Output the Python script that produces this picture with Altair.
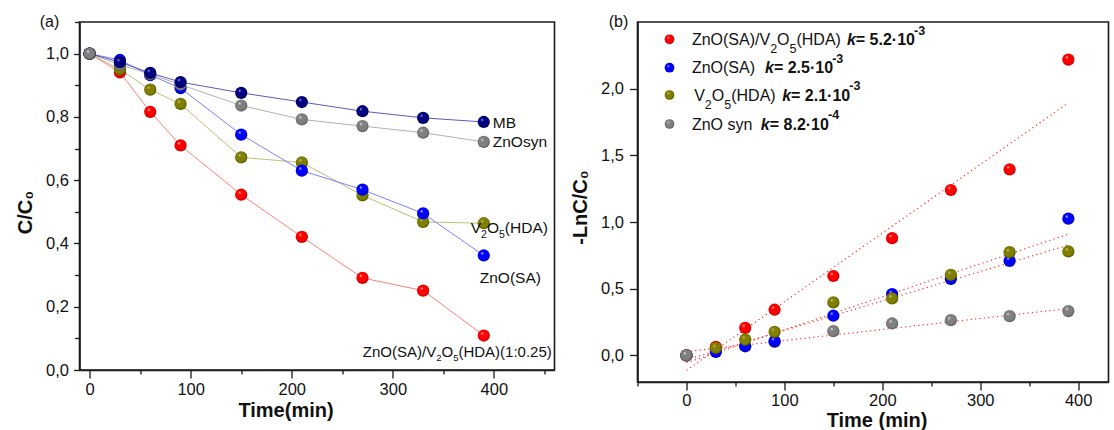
import altair as alt
import pandas as pd

# ---------------- data ----------------
time = [0, 30, 60, 90, 150, 210, 270, 330, 390]

# panel (a): C/C0
a_names = ["ZnO(SA)/V2O5(HDA)(1:0.25)", "V2O5(HDA)", "ZnO(SA)", "ZnOsyn", "MB"]
a_comp = [1.0, 0.941, 0.816, 0.710, 0.554, 0.421, 0.291, 0.251, 0.109]
a_v2o5 = [1.0, 0.950, 0.886, 0.841, 0.672, 0.656, 0.552, 0.468, 0.464]
a_znosa = [1.0, 0.980, 0.932, 0.891, 0.744, 0.630, 0.570, 0.495, 0.362]
a_znosyn = [1.0, 0.965, 0.935, 0.902, 0.836, 0.792, 0.771, 0.750, 0.721]
a_mb = [1.0, 0.973, 0.939, 0.910, 0.876, 0.847, 0.818, 0.797, 0.784]

# panel (b): -Ln C/C0
b_names = ["ZnO syn", "ZnO(SA)", "ZnO(SA)/V2O5(HDA)", "V2O5(HDA)"]
b_znosyn = [0.0, 0.040, 0.070, 0.100, 0.181, 0.239, 0.264, 0.294, 0.332]
b_znosa = [0.0, 0.025, 0.068, 0.106, 0.297, 0.460, 0.573, 0.709, 1.025]
b_comp = [0.0, 0.063, 0.206, 0.342, 0.595, 0.879, 1.240, 1.394, 2.218]
b_v2o5 = [0.0, 0.055, 0.118, 0.176, 0.397, 0.427, 0.603, 0.774, 0.779]

# linear fits (dotted lines): value at t=0 and at t=390
fit_t = [0, 390]
fit_start = [0.028, -0.056, -0.113, -0.033]
fit_end = [0.351, 0.909, 1.894, 0.827]

# legend texts of panel (b)
leg_k = ["5.2", "2.5", "2.1", "8.2"]
leg_exp = ["-3", "-3", "-3", "-4"]

FONT = "Liberation Sans"

# Arial / Liberation Sans advance widths (per 1000 em)
W_REG = {" ": 278, "(": 333, ")": 333, "-": 333, ".": 278, "/": 278, ":": 278, "=": 584,
         "·": 278, "A": 667, "B": 667, "C": 722, "D": 722, "H": 722, "M": 833, "O": 778,
         "S": 667, "V": 667, "Z": 611, "n": 556, "s": 500, "y": 500, "k": 500}
W_BOLD = {" ": 278, "=": 584, ".": 278, "·": 278, "-": 333, "k": 556}


def text_w(s, size, bold=False):
    tab = W_BOLD if bold else W_REG
    return sum(tab.get(c, 556) for c in s) * size / 1000.0


def rich(segments, size, sub_size, sub_dy, sup_size=12, sup_dy=-10.5):
    """Lay out rich-text segments; returns (list of pieces, total width)."""
    x = 0.0
    out = []
    for text, kind in segments:
        if kind == "gap":
            x += float(text)
            continue
        fs, weight, style, dy = size, "normal", "normal", 0.0
        if kind == "sub":
            fs, dy = sub_size, sub_dy
        elif kind == "b":
            weight = "bold"
        elif kind == "bi":
            weight, style = "bold", "italic"
        elif kind == "sup":
            fs, weight, dy = sup_size, "bold", sup_dy
        out.append((text, x, dy, fs, weight, style))
        x += text_w(text, fs, weight == "bold")
    return out, x


def formula_segments(name):
    """'V2O5' style chemistry -> normal/subscript segments."""
    segs = []
    buf = ""
    for i, c in enumerate(name):
        if c.isdigit() and i > 0 and name[i - 1] in "VO" and (i + 1 < len(name) and name[i + 1] in "O("):
            if buf:
                segs.append((buf, "n"))
                buf = ""
            segs.append((c, "sub"))
        else:
            buf += c
    if buf:
        segs.append((buf, "n"))
    return segs


def sphere(base, dark, light):
    return {
        "gradient": "radial",
        "x1": 0.35, "y1": 0.3, "r1": 0.0,
        "x2": 0.5, "y2": 0.5, "r2": 0.55,
        "stops": [
            {"offset": 0.0, "color": light},
            {"offset": 0.25, "color": base},
            {"offset": 0.7, "color": base},
            {"offset": 1.0, "color": dark},
        ],
    }


RED = ("#ff0000", "#b00000", "#ffe8e8")
BLUE = ("#0000ff", "#0000a0", "#e8eeff")
OLIVE = ("#808000", "#4a4a00", "#f2c8a8")
GRAY = ("#808080", "#505050", "#f4f4f4")
NAVY = ("#000080", "#000040", "#b8b8ff")


def df_from(name, vals):
    return pd.DataFrame({"series": [name] * len(time), "t": time, "v": vals})


dummy = pd.DataFrame({"d": [0]})
TXT = "#111111"

# ---------------- panel (a) ----------------
xa = alt.X(
    "t:Q",
    scale=alt.Scale(domain=[-10, 460], nice=False, zero=False),
    axis=alt.Axis(
        values=[0, 50, 100, 150, 200, 250, 300, 350, 400, 450],
        title="Time(min)",
        labelExpr="datum.value % 100 == 0 ? datum.label : ''",
        tickSize={"condition": {"test": "datum.value % 100 != 0", "value": 4}, "value": 8},
        labelPadding=3,
        titleX=206, titleY=40, titleBaseline="middle",
    ),
)
ya = alt.Y(
    "v:Q",
    scale=alt.Scale(domain=[0, 1.1], nice=False, zero=False),
    axis=alt.Axis(
        values=[0.0, 0.1, 0.2, 0.3, 0.4, 0.5, 0.6, 0.7, 0.8, 0.9, 1.0, 1.1],
        title="C/C₀",
        labelExpr="round(datum.value*10) % 2 == 0 ? replace(format(datum.value, '.1f'), '.', ',') : ''",
        tickSize={"condition": {"test": "round(datum.value*10) % 2 == 1", "value": 5}, "value": 6},
        labelPadding=5,
        titlePadding=10,
        titleY=190,
    ),
)

# (name, values, sphere colours, line colour, label dx, label baseline dy, align, font, sub size, sub dy)
a_series = [
    (a_names[0], a_comp, RED, "#ff7070", 68, 21, "right", 15, 9.5, 4),
    (a_names[1], a_v2o5, OLIVE, "#b8b868", -13, 10, "left", 15.5, 10.5, 5),
    (a_names[2], a_znosa, BLUE, "#7070ff", -4, 27.5, "left", 15.5, 10.5, 5),
    (a_names[3], a_znosyn, GRAY, "#a8a8a8", 9, 5.5, "left", 15.5, 10.5, 5),
    (a_names[4], a_mb, NAVY, "#4848b0", 9, 6.5, "left", 15.5, 10.5, 5),
]

a_layers = []
for s in a_series:
    a_layers.append(
        alt.Chart(df_from(s[0], s[1])).mark_line(color=s[3], strokeWidth=0.9).encode(x=xa, y=ya)
    )
for s in a_series:
    a_layers.append(
        alt.Chart(df_from(s[0], s[1])).mark_point(
            shape="circle", filled=True, fill=sphere(*s[2]), size=150, opacity=1, strokeWidth=0
        ).encode(x=xa, y=ya)
    )
# gray sphere sits on top at t = 0
a_layers.append(
    alt.Chart(df_from(a_names[3], a_znosyn)).transform_filter("datum.t == 0").mark_point(
        shape="circle", filled=True, fill=sphere(*GRAY), size=150, opacity=1, strokeWidth=0
    ).encode(x=xa, y=ya)
)
# end-of-line labels with real subscripts
for name, vals, col, lcol, dx, dy, al, fs, sfs, sdy in a_series:
    pieces, total = rich(formula_segments(name), fs, sfs, sdy)
    start = dx - total if al == "right" else dx
    for text, ox, ody, pfs, pw, pst in pieces:
        a_layers.append(
            alt.Chart(df_from(name, vals)).transform_filter("datum.t == 390").mark_text(
                align="left", baseline="alphabetic", dx=start + ox, dy=dy + ody,
                font=FONT, fontSize=pfs, fontWeight=pw, fontStyle=pst, color=TXT, text=text,
            ).encode(x=xa, y=ya)
        )
a_layers.append(
    alt.Chart(dummy).mark_text(font=FONT, fontSize=16, color=TXT, align="center", baseline="middle").encode(
        x=alt.value(-30), y=alt.value(0), text=alt.value("(a)")
    )
)
chart_a = alt.layer(*a_layers).properties(width=475, height=348)

# ---------------- panel (b) ----------------
xb = alt.X(
    "t:Q",
    scale=alt.Scale(domain=[-50, 431], nice=False, zero=False),
    axis=alt.Axis(
        values=[-50, 0, 50, 100, 150, 200, 250, 300, 350, 400],
        title="Time (min)",
        labelExpr="datum.value % 100 == 0 ? datum.label : ''",
        tickSize={"condition": {"test": "datum.value % 100 != 0", "value": 4}, "value": 8},
        labelPadding=2,
        titleX=239, titleY=38, titleBaseline="middle",
    ),
)
yb = alt.Y(
    "v:Q",
    scale=alt.Scale(domain=[-0.2, 2.5], nice=False, zero=False),
    axis=alt.Axis(
        values=[0.0, 0.5, 1.0, 1.5, 2.0],
        title="-LnC/C₀",
        labelExpr="replace(format(datum.value, '.1f'), '.', ',')",
        tickSize=8,
        labelPadding=6,
        titlePadding=10,
        titleY=185,
    ),
)

b_series = [
    (b_names[0], b_znosyn, GRAY),
    (b_names[1], b_znosa, BLUE),
    (b_names[2], b_comp, RED),
    (b_names[3], b_v2o5, OLIVE),
]

b_layers = []
fit_df = pd.DataFrame({
    "t": [fit_t[0]] * 4, "t2": [fit_t[1]] * 4, "v": fit_start, "v2": fit_end,
})
b_layers.append(
    alt.Chart(fit_df).mark_rule(color="#ff2020", strokeDash=[1.2, 3.2], strokeWidth=1.1).encode(
        x=xb, y=yb, x2="t2:Q", y2="v2:Q"
    )
)
for name, vals, col in b_series:
    b_layers.append(
        alt.Chart(df_from(name, vals)).mark_point(
            shape="circle", filled=True, fill=sphere(*col), size=150, opacity=1, strokeWidth=0
        ).encode(x=xb, y=yb)
    )
b_layers.append(
    alt.Chart(df_from(b_names[0], b_znosyn)).transform_filter("datum.t == 0").mark_point(
        shape="circle", filled=True, fill=sphere(*GRAY), size=150, opacity=1, strokeWidth=0
    ).encode(x=xb, y=yb)
)

# legend (layout in pixels of the plot area)
leg_order = [2, 1, 3, 0]          # red, blue, olive, gray
leg_labels = [b_names[i] for i in leg_order]
leg_cols = [b_series[i][2] for i in leg_order]
row_y = [17.3, 45.7, 73.0, 102.0]
name_x = [54.4, 54.4, 56.7, 54.4]
gap_k = [6.0, 10.0, 6.5, 8.5]
for i in range(4):
    b_layers.append(
        alt.Chart(dummy).mark_point(
            shape="circle", filled=True, fill=sphere(*leg_cols[i]), size=95, opacity=1, strokeWidth=0
        ).encode(x=alt.value(32), y=alt.value(row_y[i]))
    )
    segs = formula_segments(leg_labels[i]) + [
        (str(gap_k[i]), "gap"), ("k", "bi"), ("= " + leg_k[i] + "·10", "b"), (leg_exp[i], "sup")
    ]
    pieces, _ = rich(segs, 16, 12.5, 8, sup_size=12.5, sup_dy=-10.5)
    base = row_y[i] + 5.7
    for text, ox, ody, pfs, pw, pst in pieces:
        b_layers.append(
            alt.Chart(dummy).mark_text(
                font=FONT, fontSize=pfs, fontWeight=pw, fontStyle=pst, color=TXT,
                align="left", baseline="alphabetic",
            ).encode(x=alt.value(name_x[i] + ox), y=alt.value(base + ody), text=alt.value(text))
        )
b_layers.append(
    alt.Chart(dummy).mark_text(font=FONT, fontSize=16, color=TXT, align="center", baseline="middle").encode(
        x=alt.value(-19), y=alt.value(0), text=alt.value("(b)")
    )
)
chart_b = alt.layer(*b_layers).properties(width=471, height=360)

chart = (
    alt.hconcat(chart_a, chart_b, spacing=14)
    .configure(padding={"left": 14.5, "top": 13, "right": 1, "bottom": 0}, font=FONT, background="white")
    .configure_view(stroke="#1a1a1a", strokeWidth=1.6)
    .configure_axis(
        grid=False,
        domainColor="#1a1a1a",
        domainWidth=1.6,
        tickColor="#1a1a1a",
        tickWidth=1.3,
        labelFont=FONT,
        labelFontSize=16.5,
        labelColor=TXT,
        titleFont=FONT,
        titleFontSize=20,
        titleFontWeight="bold",
        titleColor=TXT,
        labelOverlap=False,
    )
)

chart.save("out.html", embed_options={"renderer": "svg", "actions": False})
